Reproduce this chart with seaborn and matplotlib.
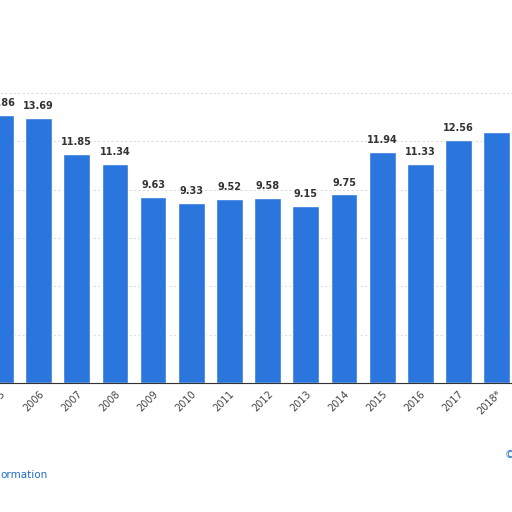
import matplotlib
matplotlib.use("Agg")
import matplotlib.pyplot as plt
import seaborn as sns
import pandas as pd

years = ["2005", "2006", "2007", "2008", "2009", "2010", "2011", "2012",
         "2013", "2014", "2015", "2016", "2017", "2018*"]
values = [13.86, 13.69, 11.85, 11.34, 9.63, 9.33, 9.52, 9.58,
          9.15, 9.75, 11.94, 11.33, 12.56, 13.0]
shown = [True] * 13 + [False]

df = pd.DataFrame({"year": years, "value": values})

sns.set_style("white")
plt.rcParams['font.family'] = ['DejaVu Sans']
fig = plt.figure(figsize=(5.12, 5.12), dpi=100)
ax = fig.add_axes([0, 0.252, 1, 0.748])
for y in [2.5, 5, 7.5, 10, 12.5, 15]:
    ax.axhline(y, color="#dddddd", lw=0.8, ls=(0, (2, 2)), zorder=0)
sns.barplot(data=df, x="year", y="value", color="#2a76dd", width=0.7,
            saturation=1, ax=ax, zorder=2)
for i, (v, s) in enumerate(zip(values, shown)):
    if s:
        ax.text(i, v + 0.35, f"{v:.2f}", ha="center", va="bottom",
                fontsize=7, fontweight="bold", color="#333333")
ax.set_xlim(-0.01, 13.4)
ax.set_ylim(0, 19.8)
ax.set_xlabel("")
ax.set_ylabel("")
ax.set_yticks([])
ax.tick_params(axis="x", labelsize=7, colors="#444444", length=0, pad=4)
plt.setp(ax.get_xticklabels(), rotation=45, ha="right", rotation_mode="anchor")
for s in ["top", "right", "left"]:
    ax.spines[s].set_visible(False)
ax.spines["bottom"].set_color("#333333")
fig.text(0.0, 0.066, "ormation", color="#1f6fc5", fontsize=7.5)
fig.text(0.985, 0.106, "©", color="#1f6fc5", fontsize=7.5)
fig.savefig("out.png", dpi=100)
